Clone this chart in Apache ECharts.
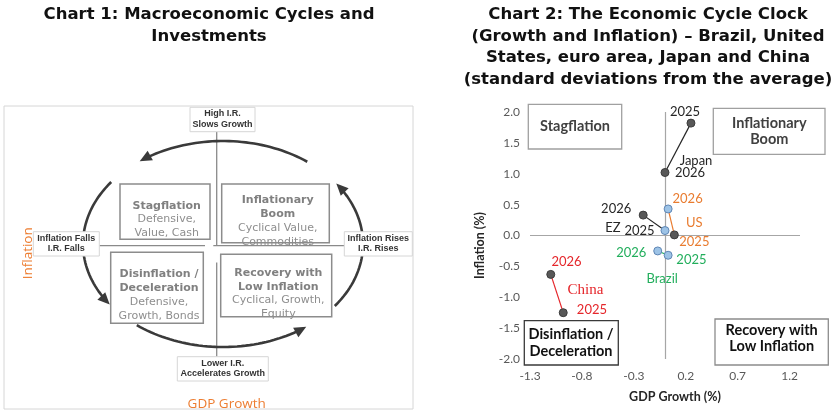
<!DOCTYPE html>
<html><head><meta charset="utf-8">
<script src="https://cdn.jsdelivr.net/npm/echarts@6/dist/echarts.min.js"></script>
<style>html,body{margin:0;padding:0;background:#fff}#c{width:840px;height:420px}</style>
</head><body><div id="c"></div>
<script>
// ---------- DATA (Chart 2) ----------
const countries = ['Japan', 'EZ', 'US', 'Brazil', 'China'];
const years = ['2025', '2026'];
const gdp2025 = [0.25, 0.00, 0.09, 0.03, -0.98];
const inflation2025 = [1.82, 0.08, 0.01, -0.32, -1.25];
const gdp2026 = [0.00, -0.21, 0.03, -0.07, -1.10];
const inflation2026 = [1.02, 0.33, 0.43, -0.25, -0.63];
const xTickLabels = [-1.3, -0.8, -0.3, 0.2, 0.7, 1.2];
const yTickLabels = [-2.0, -1.5, -1.0, -0.5, 0.0, 0.5, 1.0, 1.5, 2.0];

// ---------- TEXTS ----------
const title1 = ['Chart 1: Macroeconomic Cycles and', 'Investments'];
const title2 = ['Chart 2: The Economic Cycle Clock', '(Growth and Inflation) \u2013 Brazil, United', 'States, euro area, Japan and China', '(standard deviations from the average)'];

// ---------- STYLES ----------
const countryColor = {Japan: '#262626', EZ: '#262626', US: '#e97c30', Brazil: '#22ae5c', China: '#e5262b'};
const markerKind = {Japan: ['dark', 'dark'], EZ: ['blue', 'dark'], US: ['dark', 'blue'], Brazil: ['blue', 'blue'], China: ['dark', 'dark']};
const markerStyles = {
  dark: {color: '#585858', borderColor: '#3c3c3c', borderWidth: 1},
  blue: {color: '#9dc3e6', borderColor: '#5f86b5', borderWidth: 1}
};
const yearLabelOffset = {
  Japan: [[-6, -11], [25, 0]],
  EZ: [[-25.5, 0.5], [-27, -6]],
  US: [[20, 7.3], [19.5, -10]],
  Brazil: [[23.3, 4.7], [-26.5, 2.3]],
  China: [[28.7, -2.4], [15.7, -12.6]]
};
const nameLabel = {
  Japan: {year: 1, offset: [31, -11.5]},
  EZ: {year: 0, offset: [-52, -3]},
  US: {year: 0, offset: [20, -11.7]},
  Brazil: {year: 0, offset: [-6, 24]},
  China: {year: 0, offset: [22.3, -22.4], family: 'Liberation Serif', size: 15}
};

function point(i, k) {
  return k === 0 ? [gdp2025[i], inflation2025[i]] : [gdp2026[i], inflation2026[i]];
}

const series = countries.map((c, i) => ({
  type: 'line',
  name: c,
  symbol: 'circle',
  symbolSize: 8,
  lineStyle: {color: countryColor[c], width: 1.2},
  z: 3,
  data: years.map((y, k) => ({
    value: point(i, k),
    itemStyle: markerStyles[markerKind[c][k]],
    label: {
      show: true, position: 'inside', formatter: y, offset: yearLabelOffset[c][k],
      color: countryColor[c], fontFamily: 'Lato', fontSize: 13
    }
  }))
}));

series.push({
  type: 'scatter',
  name: 'names',
  symbolSize: 1,
  itemStyle: {color: 'rgba(0,0,0,0)', opacity: 1},
  z: 4,
  data: countries.map((c, i) => ({
    value: point(i, nameLabel[c].year),
    label: {
      show: true, position: 'inside', formatter: c, offset: nameLabel[c].offset, opacity: 1,
      color: countryColor[c], fontFamily: nameLabel[c].family || 'Lato', fontSize: nameLabel[c].size || 13
    }
  }))
});

series[0].markLine = {
  silent: true, symbol: 'none', label: {show: false},
  lineStyle: {color: '#a6a6a6', width: 1.2, type: 'solid'},
  data: [{xAxis: 0}, {yAxis: 0}],
  z: 1
};

// ---------- GRAPHIC HELPERS ----------
const G = [];
function txt(text, x, y, o) {
  o = o || {};
  G.push({type: 'text', x: x, y: y, rotation: o.rotation || 0, z: o.z || 10,
    style: {text: text, x: 0, y: 0, align: o.align || 'center', verticalAlign: 'middle',
      fill: o.fill || '#222', fontSize: o.size || 12, fontWeight: o.weight || 'normal',
      fontFamily: o.family || 'Lato'}});
}
function rect(x, y, w, h, stroke, lw, fill, z) {
  G.push({type: 'rect', shape: {x: x, y: y, width: w, height: h},
    style: {fill: fill === undefined ? '#fff' : fill, stroke: stroke, lineWidth: lw}, z: z || 5});
}
function seg(x1, y1, x2, y2, stroke, lw) {
  G.push({type: 'line', shape: {x1: x1, y1: y1, x2: x2, y2: y2}, style: {stroke: stroke, lineWidth: lw}, z: 4});
}
function arcArrow(cx, cy, rx, ry, a0, a1) {
  const rad = Math.PI / 180;
  const P = t => [cx + rx * Math.cos(t), cy - ry * Math.sin(t)];
  const t1 = a1 * rad;
  const tip = P(t1);
  let dx = -rx * Math.sin(t1), dy = -ry * Math.cos(t1);
  const L = Math.hypot(dx, dy); dx /= L; dy /= L;
  const headLen = 12, headW = 5.5;
  const base = [tip[0] - dx * headLen, tip[1] - dy * headLen];
  const tEnd = t1 - (headLen - 2) / L;
  const pts = [];
  const n = 40;
  for (let k = 0; k <= n; k++) pts.push(P(a0 * rad + (tEnd - a0 * rad) * k / n));
  G.push({type: 'polyline', shape: {points: pts}, style: {stroke: '#3a3a3a', lineWidth: 2.6, fill: null}, z: 6});
  G.push({type: 'polygon', shape: {points: [tip, [base[0] - dy * headW, base[1] + dx * headW], [base[0] + dy * headW, base[1] - dx * headW]]},
    style: {fill: '#3a3a3a'}, z: 6});
}

// titles
const titleFont = {size: 16.5, weight: 'bold', family: 'DejaVu Sans', fill: '#111'};
title1.forEach((t, k) => txt(t, 209, 15 + k * 21.6, titleFont));
title2.forEach((t, k) => txt(t, 648, 15 + k * 21.6, titleFont));

// ---------- CHART 1 DIAGRAM ----------
rect(4, 106, 409, 303, '#d6d6d6', 1, 'none', 2);
// axes cross
seg(216.7, 131.7, 216.7, 246, '#8a8a8a', 1.3);
seg(216.7, 262.5, 216.7, 356.7, '#8a8a8a', 1.3);
seg(99.3, 245.7, 205, 245.7, '#8a8a8a', 1.3);
seg(213.3, 245.7, 344.3, 245.7, '#8a8a8a', 1.3);
// cycle arrows
arcArrow(223, 244, 140, 103, 53, 126.5);
arcArrow(223, 244, 140, 103, 143, 216);
arcArrow(223, 244, 140, 103, 232, 306.5);
arcArrow(223, 244, 140, 103, 323, 396);
// small labels
const smallFont = {size: 9, weight: 'bold', family: 'Liberation Sans', fill: '#333', z: 11};
rect(190, 107.3, 65, 24.4, '#d6d6d6', 1, '#fff', 8);
txt('High I.R.', 222.5, 114, smallFont); txt('Slows Growth', 222.5, 124.5, smallFont);
rect(177.3, 356.7, 91, 24.3, '#d6d6d6', 1, '#fff', 8);
txt('Lower I.R.', 222.8, 363.5, smallFont); txt('Accelerates Growth', 222.8, 374, smallFont);
rect(33.3, 231.7, 66, 24.3, '#d6d6d6', 1, '#fff', 8);
txt('Inflation Falls', 66.3, 238.5, smallFont); txt('I.R. Falls', 66.3, 249, smallFont);
rect(344.3, 231.7, 68, 24.3, '#d6d6d6', 1, '#fff', 8);
txt('Inflation Rises', 378.3, 238.5, smallFont); txt('I.R. Rises', 378.3, 249, smallFont);
// quadrant boxes
const qHead = {size: 11, weight: 'bold', family: 'DejaVu Sans', fill: '#808080', z: 9};
const qBody = {size: 11, weight: 'normal', family: 'DejaVu Sans', fill: '#8e8e8e', z: 9};
rect(120, 184, 90, 55.3, '#8c8c8c', 1.5, 'none', 12);
txt('Stagflation', 166.7, 205.7, qHead); txt('Defensive,', 166.7, 219.3, qBody); txt('Value, Cash', 166.7, 233.3, qBody);
rect(221.7, 184, 107.6, 58.7, '#8c8c8c', 1.5, 'none', 12);
txt('Inflationary', 277.7, 200, qHead); txt('Boom', 277.7, 214, qHead); txt('Cyclical Value,', 277.7, 227.7, qBody); txt('Commodities', 277.7, 241.7, qBody);
rect(110.7, 252.3, 92.6, 71, '#8c8c8c', 1.5, 'none', 12);
txt('Disinflation /', 159, 274.3, qHead); txt('Deceleration', 159, 288.3, qHead); txt('Defensive,', 159, 302, qBody); txt('Growth, Bonds', 159, 316, qBody);
rect(220.7, 254.3, 111, 62.4, '#8c8c8c', 1.5, 'none', 12);
txt('Recovery with', 278.3, 273, qHead); txt('Low Inflation', 278.3, 286.7, qHead); txt('Cyclical, Growth,', 278.3, 300.3, qBody); txt('Equity', 278.3, 314.3, qBody);
// axis titles
txt('Inflation', 28.3, 253.3, {size: 13.5, family: 'Open Sans', fill: '#ed7d31', rotation: Math.PI / 2});
txt('GDP Growth', 226.7, 404, {size: 13.5, family: 'Open Sans', fill: '#ed7d31'});

// ---------- CHART 2 QUADRANT BOXES ----------
const bHead = {size: 14.5, weight: 'bold', family: 'Lato', fill: '#404040', z: 11};
const bHeadDark = {size: 14.5, weight: 'bold', family: 'Lato', fill: '#111', z: 11};
rect(528.3, 104.3, 93.4, 44.7, '#a0a0a0', 1.3, '#fff', 8);
txt('Stagflation', 575, 126.7, bHead);
rect(713.3, 108.3, 111.7, 46, '#a0a0a0', 1.3, '#fff', 8);
txt('Inflationary', 769.3, 123.3, bHead); txt('Boom', 769.3, 139.3, bHead);
rect(524.3, 320.7, 94, 44.3, '#3a3a3a', 1.3, '#fff', 8);
txt('Disinflation /', 571, 334.5, bHeadDark); txt('Deceleration', 571, 351, bHeadDark);
rect(715, 319, 113.3, 46, '#8c8c8c', 1.3, '#fff', 8);
txt('Recovery with', 771.7, 330.5, bHeadDark); txt('Low Inflation', 771.7, 346, bHeadDark);

const chart = echarts.init(document.getElementById('c'), null, {renderer: 'canvas'});
chart.setOption({
  animation: false,
  backgroundColor: '#fff',
  grid: {left: 530, right: 40, top: 112, bottom: 61, containLabel: false},
  xAxis: {
    type: 'value', min: -1.3, max: 1.3,
    axisLine: {show: false}, axisTick: {show: false}, splitLine: {show: false},
    axisLabel: {customValues: xTickLabels, formatter: v => v.toFixed(1), color: '#595959', fontFamily: 'Lato', fontSize: 12, margin: 11},
    name: 'GDP Growth (%)', nameLocation: 'middle', nameGap: 31,
    nameTextStyle: {fontFamily: 'Lato', fontWeight: 'bold', fontSize: 12.5, color: '#262626', padding: [0, 0, 0, 20]}
  },
  yAxis: {
    type: 'value', min: -2, max: 2, interval: 0.5,
    axisLine: {show: false}, axisTick: {show: false}, splitLine: {show: false},
    axisLabel: {customValues: yTickLabels, formatter: v => v.toFixed(1), color: '#595959', fontFamily: 'Lato', fontSize: 12, margin: 10},
    name: 'Inflation (%)', nameLocation: 'middle', nameGap: 44,
    nameTextStyle: {fontFamily: 'Lato', fontWeight: 'bold', fontSize: 12.5, color: '#262626', padding: [0, 20, 0, 0]}
  },
  series: series,
  graphic: {elements: G}
});
</script>
</body></html>
